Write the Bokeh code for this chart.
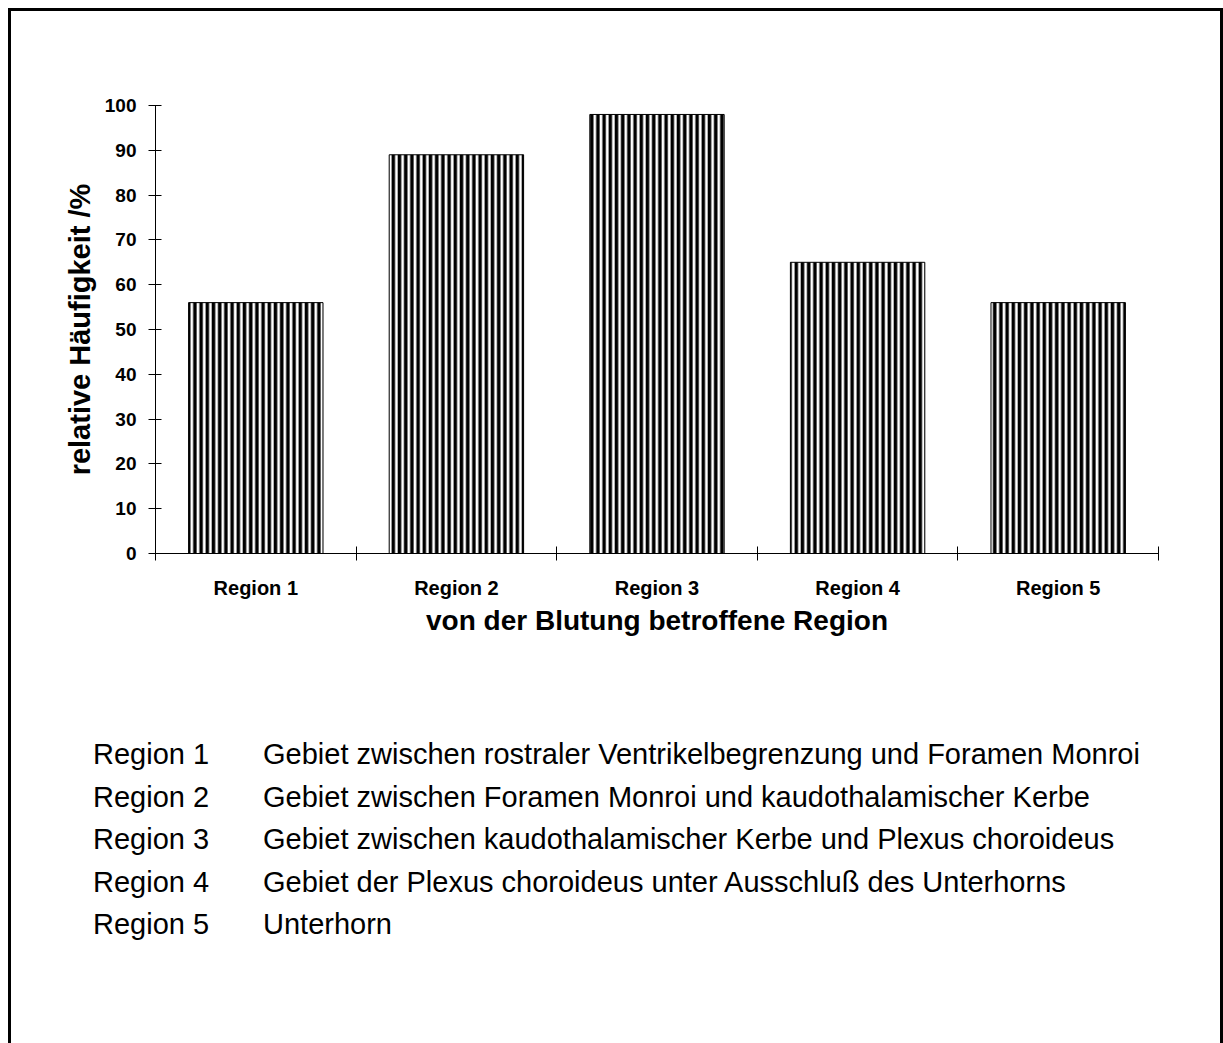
from bokeh.plotting import figure
from bokeh.models import Range1d, FixedTicker, Div
from bokeh.layouts import column
from bokeh.embed import file_html
from bokeh.resources import INLINE

categories = ["Region 1", "Region 2", "Region 3", "Region 4", "Region 5"]
values = [56, 89, 98, 65, 56]
y_ticks = [0, 10, 20, 30, 40, 50, 60, 70, 80, 90, 100]
legend_names = ["Region 1", "Region 2", "Region 3", "Region 4", "Region 5"]
legend_texts = [
    "Gebiet zwischen rostraler Ventrikelbegrenzung und Foramen Monroi",
    "Gebiet zwischen Foramen Monroi und kaudothalamischer Kerbe",
    "Gebiet zwischen kaudothalamischer Kerbe und Plexus choroideus",
    "Gebiet der Plexus choroideus unter Ausschluß des Unterhorns",
    "Unterhorn",
]

FONT = "Liberation Sans"
W = 1209
H1, H2 = 660, 372
ML, MR, MT = 144, 62, 94
MB = H1 - 542

# ---------------- chart ----------------
p = figure(width=W, height=H1, output_backend="svg", toolbar_location=None,
           x_range=Range1d(0, len(categories)), y_range=Range1d(0, 100),
           min_border_left=ML, min_border_right=MR, min_border_top=MT, min_border_bottom=MB)
p.outline_line_color = None
p.grid.visible = False
p.background_fill_color = "white"
p.border_fill_color = "white"

xs = [i + 0.5 for i in range(len(categories))]
p.vbar(x=xs, top=values, width=0.67, bottom=0, fill_color="white", line_color="black",
       line_width=1, hatch_pattern="vertical_line", hatch_color="black",
       hatch_scale=6.2, hatch_weight=3.5)

xa = p.xaxis[0]
xa.ticker = FixedTicker(ticks=xs, minor_ticks=list(range(len(categories) + 1)))
xa.major_label_overrides = {x: c for x, c in zip(xs, categories)}
xa.major_tick_in = 0
xa.major_tick_out = 0
xa.minor_tick_in = 7
xa.minor_tick_out = 7
xa.minor_tick_line_color = "black"
xa.axis_line_color = "black"
xa.major_label_standoff = 16
xa.major_label_text_font = FONT
xa.major_label_text_font_style = "bold"
xa.major_label_text_font_size = "20px"
xa.major_label_text_color = "black"
xa.axis_label = "von der Blutung betroffene Region"
xa.axis_label_text_font = FONT
xa.axis_label_text_font_style = "bold"
xa.axis_label_text_font_size = "28px"
xa.axis_label_text_color = "black"
xa.axis_label_standoff = 3

ya = p.yaxis[0]
ya.ticker = FixedTicker(ticks=y_ticks, minor_ticks=[])
ya.major_tick_in = 6
ya.major_tick_out = 7
ya.major_tick_line_color = "black"
ya.axis_line_color = "black"
ya.major_label_standoff = 12
ya.major_label_text_font = FONT
ya.major_label_text_font_style = "bold"
ya.major_label_text_font_size = "19px"
ya.major_label_text_color = "black"
ya.axis_label = "relative Häufigkeit /%"
ya.axis_label_text_font = FONT
ya.axis_label_text_font_style = "bold"
ya.axis_label_text_font_size = "29px"
ya.axis_label_text_color = "black"
ya.axis_label_standoff = 6

# ---------------- explanation text ----------------
row_h = 42.5
rows_html = "".join(
    f'<div style="height:{row_h}px; line-height:{row_h}px; white-space:nowrap;">'
    f'<span style="display:inline-block; width:170px;">{nm}</span>'
    f'<span>{tx}</span></div>'
    for nm, tx in zip(legend_names, legend_texts)
)
html = (f'<div style="font-family:\'{FONT}\'; font-size:29px; color:black; '
        f'padding-top:62px; padding-left:82px; margin:0;">{rows_html}</div>')
q = Div(text=html, width=W, height=H2,
        styles={"background-color": "white", "margin": "0", "padding": "0"})

layout = column(p, q, spacing=0)
layout.styles = {"margin-left": "8px", "margin-top": "8px", "background-color": "white",
                 "border-top": "3px solid black", "border-left": "3px solid black",
                 "border-right": "3px solid black"}

open("out.html", "w").write(file_html(layout, INLINE))
